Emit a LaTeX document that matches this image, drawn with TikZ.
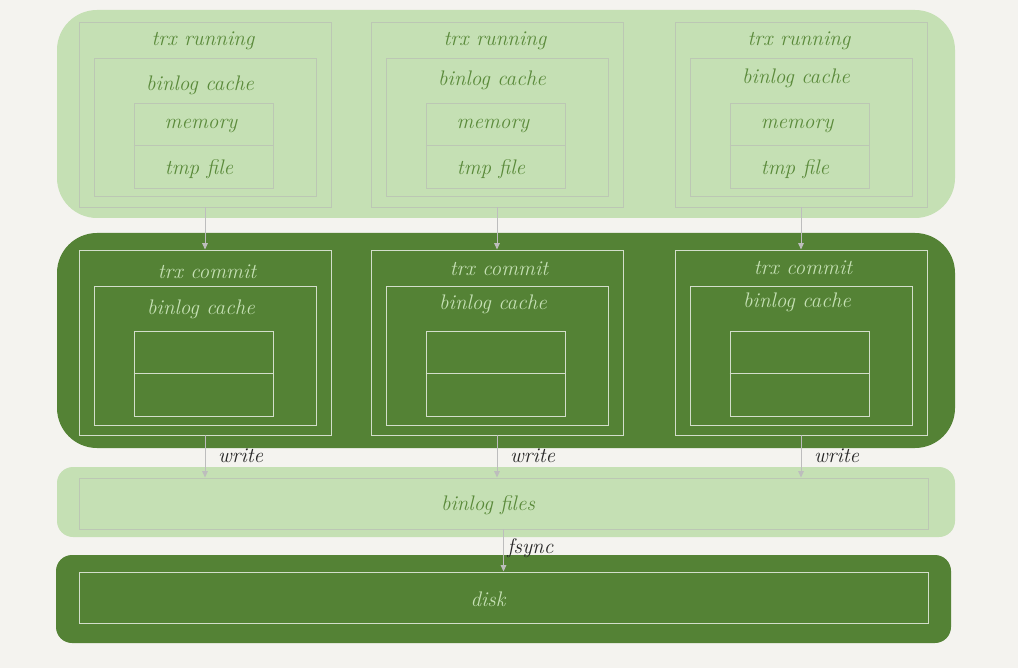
\documentclass[tikz,border=0pt]{standalone}
\usepackage{tikz}
\usetikzlibrary{positioning,arrows.meta,fit}
\definecolor{pagebg}{HTML}{F4F3EF}
\definecolor{runfill}{HTML}{C5E0B4}
\definecolor{comfill}{HTML}{548235}
\definecolor{runtext}{HTML}{5A8A3A}
\definecolor{comtext}{HTML}{C5E0B4}
\definecolor{runline}{HTML}{BCC7B4}
\definecolor{comline}{HTML}{D3DECB}
\definecolor{arrgrey}{HTML}{BDBDBD}
\definecolor{inkdark}{HTML}{262626}
\tikzset{
  bl box/.style={rectangle, inner sep=0pt, line width=0.7pt},
  bl run/.style={bl box, draw=runline},
  bl com/.style={bl box, draw=comline},
  bl txt/.style={font=\fontsize{15}{17}\selectfont\itshape, inner sep=1pt},
  bl runtxt/.style={bl txt, text=runtext},
  bl comtxt/.style={bl txt, text=comtext},
  bl arr/.style={-{Triangle[length=1.6mm, width=1.4mm]}, arrgrey, line width=0.7pt},
  bl note/.style={bl txt, text=inkdark, anchor=west},
}

\begin{document}
\begin{tikzpicture}[x=0.025cm, y=-0.025cm]
  \fill[pagebg] (0,0) rectangle (1018,668);
  \fill[runfill, rounded corners=1cm] (57,10) rectangle (955,218);
  \fill[comfill, rounded corners=1cm] (57,233) rectangle (955,448);
  \fill[runfill, rounded corners=0.4cm] (57,467) rectangle (955,537);
  \fill[comfill, rounded corners=0.4cm] (56,555) rectangle (951,643);
  % binlog files and disk
  \node[bl run, fit={(79,478) (928,529)}] (files) {};
  \node[bl runtxt] (fileslab) at (488,505) {binlog files};
  \node[bl com, fit={(79,572) (928,623)}] (disk) {};
  \node[bl comtxt] (disklab) at (488,599) {disk};
  \foreach \n/\xl/\dy in {1/79/5, 2/371/0, 3/675/-2} {
    % trx running
    \node[bl run, fit={(\xl,22) (\xl+252,207)}] (run\n) {};
    \node[bl run, fit={(\xl+15,58) (\xl+237,196)}] (runcache\n) {};
    \node[bl run, fit={(\xl+55,103) (\xl+194,188)}] (runbuf\n) {};
    \draw[runline, line width=0.5pt] (runbuf\n.west) -- (runbuf\n.east);
    \node[bl runtxt] (mem\n) at (\xl+122,126) {memory};
    \node[bl runtxt] (tmp\n) at (\xl+120,169) {tmp file};
    \node[bl runtxt] (runlab\n) at (\xl+124,41) {trx running};
    \node[bl runtxt] (runcachelab\n) at (\xl+121,80+\dy) {binlog cache};
    % trx commit
    \node[bl com, fit={(\xl,250) (\xl+252,435)}] (com\n) {};
    \node[bl com, fit={(\xl+15,286) (\xl+237,425)}] (comcache\n) {};
    \node[bl com, fit={(\xl+55,331) (\xl+194,416)}] (combuf\n) {};
    \draw[comline, line width=0.6pt] (combuf\n.west) -- (combuf\n.east);
    \node[bl comtxt] (comlab\n) at (\xl+128,269+\dy/2) {trx commit};
    \node[bl comtxt] (comcachelab\n) at (\xl+122,304+\dy) {binlog cache};
    \draw[bl arr] (run\n.south) -- (com\n.north);
    \draw[bl arr] (com\n.south) -- node[bl note, pos=0.48, xshift=2.8mm] (write\n) {write} (com\n.south |- files.north);
  }
  \draw[bl arr] (files.south) -- node[bl note, pos=0.45, xshift=0.5mm] (fsync) {fsync} (files.south |- disk.north);
\end{tikzpicture}
\end{document}
